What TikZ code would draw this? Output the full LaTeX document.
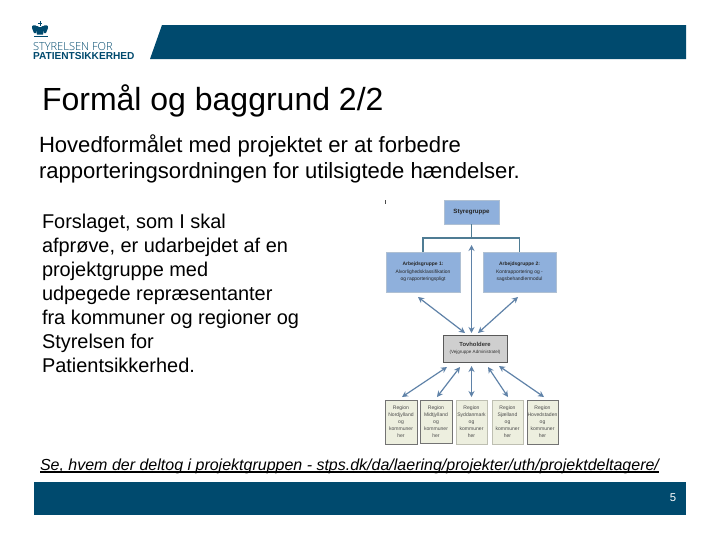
\documentclass[tikz,border=0pt]{standalone}
\usepackage{fontspec}
\setmainfont{Liberation Sans}
\newfontfamily\logofont{Open Sans Light}
\usetikzlibrary{arrows.meta}
\definecolor{navy}{HTML}{004A6E}
\definecolor{boxblue}{HTML}{8FB0DC}
\definecolor{boxgrey}{HTML}{CFCFCF}
\definecolor{boxcream}{HTML}{EDEFDF}
\definecolor{linkblue}{HTML}{5F82A8}
\definecolor{tealine}{HTML}{4F7C94}
\tikzset{
  x=0.75pt,y=-0.75pt,
  bar/.style={fill=navy,draw=none},
  txt/.style={anchor=north west,inner sep=0pt,outer sep=0pt,align=left,text=black},
  bluebox/.style={draw=linkblue!50,line width=0.5pt,fill=boxblue,inner sep=0pt,align=center,text=black!85},
  greybox/.style={draw=black!65,line width=0.6pt,fill=boxgrey,inner sep=0pt,align=center,text=black!80},
  regbox/.style={draw=black!55,line width=0.6pt,fill=boxcream,inner sep=0pt,align=center,text=black!70},
  dbl/.style={linkblue,line width=0.9pt,{Stealth[length=4.5pt,width=4.5pt]}-{Stealth[length=4.5pt,width=4.5pt]}},
  tree/.style={tealine,line width=0.9pt},
}
\newcommand{\boxat}[6]{\node[#1,minimum width=#4*0.75pt,minimum height=#5*0.75pt] (#2) at (#3) {#6};}
\begin{document}
\begin{tikzpicture}
\useasboundingbox (0,0) rectangle (720,540);
\fill[white] (0,0) rectangle (720,540);
% bars
\fill[bar] (162,25) -- (686,25) -- (686,59) -- (150,59) -- cycle;
\fill[bar] (34,482) rectangle (686,515);
\node[text=white,font=\fontsize{8.5}{10}\selectfont] (pageno) at (673,498) {5};
% logo
\begin{scope}[navy]
\fill (34,35.5) rectangle (48,37);
\fill (36,30) .. controls (33,26) and (37,25) .. (39,27) -- (41,27) .. controls (43,25) and (47,26) .. (44,30) -- (43,34.5) -- (37,34.5) -- cycle;
\fill (39.6,21) rectangle (40.6,26);
\fill (38.3,22.5) rectangle (41.9,23.5);
\fill (32,28) .. controls (31,25) and (35,24) .. (38,27) -- (36,29) -- (36,33) -- (34,33) -- cycle;
\fill (48,28) .. controls (49,25) and (45,24) .. (42,27) -- (44,29) -- (44,33) -- (46,33) -- cycle;
\end{scope}
\node[txt,text=navy,font=\logofont\fontsize{8.3}{10}\selectfont,anchor=base west] (logoa) at (33,50) {STYRELSEN FOR};
\node[txt,text=navy,font=\fontsize{7.6}{10}\selectfont\bfseries,anchor=base west] (logob) at (33,59) {PATIENTSIKKERHED};
% title and text
\node[txt,font=\fontsize{24}{28}\selectfont,anchor=base west] (title) at (42,110) {Formål og baggrund 2/2};
\node[txt,font=\fontsize{16.55}{19.5}\selectfont] (lead) at (39,134.5) {Hovedformålet med projektet er at forbedre\\rapporteringsordningen for utilsigtede hændelser.};
\node[txt,font=\fontsize{14.95}{18}\selectfont] (body) at (42,214.5) {Forslaget, som I skal\\afprøve, er udarbejdet af en\\projektgruppe med\\udpegede repræsentanter\\fra kommuner og regioner og\\Styrelsen for\\Patientsikkerhed.};
\node[txt,font=\fontsize{12}{14}\selectfont\itshape,anchor=base west] (link) at (40,470) {Se, hvem der deltog i projektgruppen - stps.dk/da/laering/projekter/uth/projektdeltagere/};
\draw[black,line width=1pt] (link.west |- 0,472) -- (link.east |- 0,472);
% org chart
\draw[black!70,line width=0.5pt] (385.5,200) -- (385.5,204);
\boxat{bluebox,font=\fontsize{4.6}{5.5}\selectfont\bfseries}{sty}{471.5,212}{55}{24}{Styregruppe}
\boxat{bluebox,font=\fontsize{3.7}{5.5}\selectfont}{ag1}{423,272}{74}{40}{\textbf{Arbejdsgruppe 1:}\\Alvorlighedsklassifikation\\og rapporteringspligt}
\boxat{bluebox,font=\fontsize{3.7}{5.5}\selectfont}{ag2}{519.5,272}{73}{40}{\textbf{Arbejdsgruppe 2:}\\Kontrapportering og -\\sagsbehandlermodul}
\boxat{greybox,font=\fontsize{3.4}{5.5}\selectfont}{tov}{475,348.5}{64}{27}{{\fontsize{4.4}{5.5}\selectfont\bfseries Tovholdere}\\(Vejgruppe Administratel)}
\boxat{regbox,font=\fontsize{3.8}{5.2}\selectfont}{r1}{401,422}{32}{44}{Region\\Nordjylland\\og\\kommuner\\her}
\boxat{regbox,font=\fontsize{3.8}{5.2}\selectfont}{r2}{436,421.5}{32}{43}{Region\\Midtjylland\\og\\kommuner\\her}
\boxat{regbox,draw=boxcream!80!black,font=\fontsize{3.8}{5.2}\selectfont}{r3}{471.5,422}{31}{44}{Region\\Syddanmark\\og\\kommuner\\her}
\boxat{regbox,draw=boxcream!80!black,font=\fontsize{3.8}{5.2}\selectfont}{r4}{507.5,422}{31}{44}{Region\\Sjælland\\og\\kommuner\\her}
\boxat{regbox,font=\fontsize{3.8}{5.2}\selectfont}{r5}{542.5,422}{31}{44}{Region\\Hovedstaden\\og\\kommuner\\her}
% tree
\coordinate (tj) at (sty.south |- 0,238);
\draw[tree] (sty.south) -- (tj);
\draw[tree] (ag1.north) |- (tj);
\draw[tree] (ag2.north) |- (tj);
% arrows
\coordinate (t1) at (465,333);
\coordinate (t2) at (471.5,333);
\coordinate (t3) at (478,333);
\coordinate (a1) at (418,297);
\coordinate (a2) at (471.5,245);
\coordinate (a3) at (518,297);
\draw[dbl] (t1) -- (a1);
\draw[dbl] (t2) -- (a2);
\draw[dbl] (t3) -- (a3);
\coordinate (b1) at (447,367);
\coordinate (b2) at (460,367);
\coordinate (b3) at (471.5,366);
\coordinate (b4) at (488,367);
\coordinate (b5) at (499,366);
\coordinate (c1) at (402,397);
\coordinate (c2) at (437,397);
\coordinate (c3) at (471.5,397);
\coordinate (c4) at (508,397);
\coordinate (c5) at (544,397);
\draw[dbl] (b1) -- (c1);
\draw[dbl] (b2) -- (c2);
\draw[dbl] (b3) -- (c3);
\draw[dbl] (b4) -- (c4);
\draw[dbl] (b5) -- (c5);
\end{tikzpicture}
\end{document}
